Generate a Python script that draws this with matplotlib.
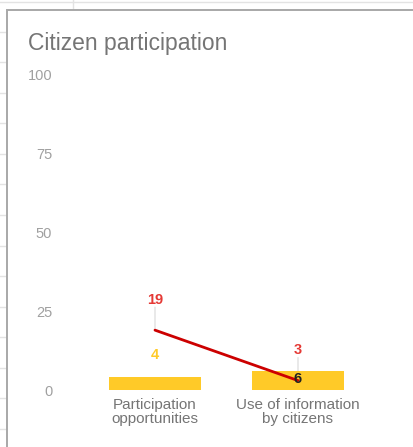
import numpy as np
import matplotlib
matplotlib.use("Agg")
import matplotlib.pyplot as plt
from matplotlib.lines import Line2D
from matplotlib.patches import Rectangle

plt.rcParams['font.family'] = ['Liberation Sans', 'DejaVu Sans']

# chart data
categories = ["Participation\nopportunities", "Use of information\nby citizens"]
bar_values = [4, 6]
line_values = [19, 3]
y_ticks = [0, 25, 50, 75, 100]

W, H = 413, 447
fig = plt.figure(figsize=(W / 100, H / 100), dpi=100)
fig.patch.set_facecolor("white")

# spreadsheet grid behind the chart card
grid_col = "#e3e3e3"
fig.add_artist(Line2D([0, 1], [1 - 2 / H, 1 - 2 / H], color=grid_col, lw=1, zorder=-2))
fig.add_artist(Line2D([73 / W, 73 / W], [1, 1 - 10 / H], color=grid_col, lw=1, zorder=-2))
for yy in np.arange(31.7, H, 30.55):
    fig.add_artist(Line2D([0, 7 / W], [1 - yy / H, 1 - yy / H], color=grid_col, lw=1, zorder=-2))

# card
fig.add_artist(Rectangle((7 / W, -0.1), 1.2, 1 - 10 / H + 0.1, transform=fig.transFigure,
                         facecolor="white", edgecolor="#a8a8a8", lw=1.4, zorder=-1))

fig.text(28 / W, 1 - 50 / H, "Citizen participation", fontsize=16.5, color="#757575",
         ha="left", va="baseline")

ax = fig.add_axes([83.5 / W, (H - 390) / H, 286 / W, 315 / H])
ax.set_facecolor("none")
x = np.arange(len(categories))

ax.bar(x, bar_values, width=0.64, color="#ffca28", zorder=2)
ax.plot(x, line_values, color="#cc0000", lw=2, zorder=3, solid_capstyle="round")

# data labels
for xi, v in zip(x, line_values):
    ax.annotate("", xy=(xi, v), xytext=(0, 16.5), textcoords="offset points",
                arrowprops=dict(arrowstyle="-", color="#e0e0e0", lw=1, shrinkA=0, shrinkB=0),
                zorder=1)
    ax.annotate(str(v), xy=(xi, v), xytext=(0, 22), textcoords="offset points",
                ha="center", va="center", fontsize=10.5, fontweight="bold", color="#e53935")

bar_label_offsets = [16, -5.5]
bar_label_colors = ["#ffca28", "#222222"]
for xi, v, off, c in zip(x, bar_values, bar_label_offsets, bar_label_colors):
    ax.annotate(str(v), xy=(xi, v), xytext=(0, off), textcoords="offset points",
                ha="center", va="center", fontsize=10.5, fontweight="bold", color=c, zorder=4)

ax.set_xlim(-0.5, len(categories) - 0.5)
ax.set_ylim(0, 100)
ax.set_yticks(y_ticks)
ax.set_xticks(x)
ax.set_xticklabels(categories, fontsize=11, color="#757575", linespacing=0.95)
ax.tick_params(axis="y", length=0, pad=22.5, labelsize=10.5, labelcolor="#a0a0a0")
ax.tick_params(axis="x", length=0, pad=6)
for s in ax.spines.values():
    s.set_visible(False)

fig.savefig("out.png", dpi=100)
